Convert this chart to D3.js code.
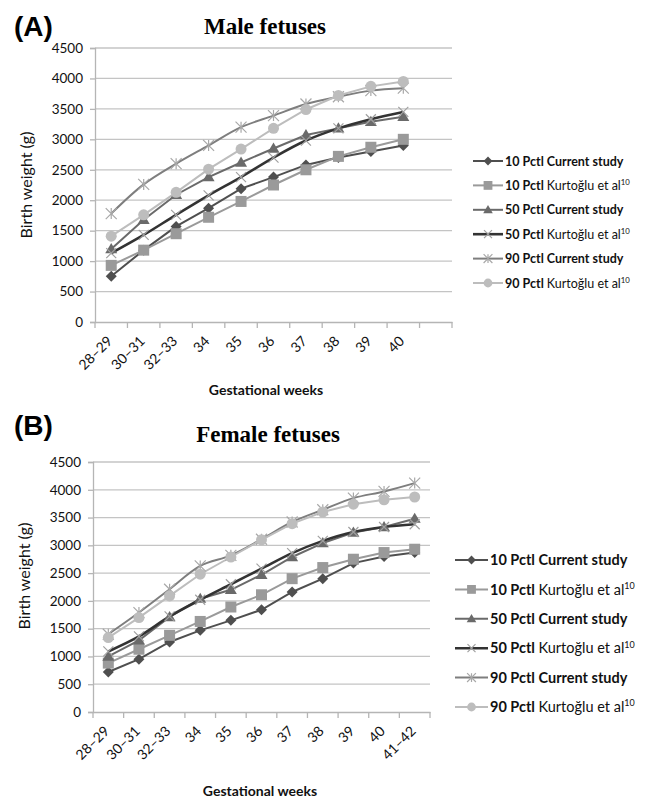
<!DOCTYPE html>
<html><head><meta charset="utf-8">
<script src="https://cdn.jsdelivr.net/npm/d3@7"></script>
<style>body{margin:0;background:#fff}svg{display:block}</style>
</head><body>
<svg id="c" width="651" height="800"></svg>
<script>
// ---- data ----
const weeksMale = ["28–29","30–31","32–33","34","35","36","37","38","39","40",""];
const weeksFemale = ["28–29","30–31","32–33","34","35","36","37","38","39","40","41–42"];
const yTicks = [0,500,1000,1500,2000,2500,3000,3500,4000,4500];

const seriesNames = [
  ["10 Pctl","Current study",false],
  ["10 Pctl","Kurtoğlu et al",true],
  ["50 Pctl","Current study",false],
  ["50 Pctl","Kurtoğlu et al",true],
  ["90 Pctl","Current study",false],
  ["90 Pctl","Kurtoğlu et al",true]
];

const male10Current = [750,1180,1570,1870,2190,2380,2580,2700,2800,2900];
const male10Kurt    = [930,1180,1450,1720,1980,2250,2500,2720,2870,3000];
const male50Current = [1200,1680,2090,2380,2620,2850,3070,3180,3290,3370];
const male50Kurt    = [1130,1430,1760,2080,2380,2700,2980,3180,3330,3450];
const male90Current = [1780,2260,2600,2900,3200,3390,3580,3700,3800,3840];
const male90Kurt    = [1410,1760,2130,2510,2840,3180,3490,3720,3870,3950];

const female10Current = [720,950,1260,1470,1650,1840,2160,2400,2680,2800,2870];
const female10Kurt    = [880,1130,1380,1630,1890,2110,2400,2600,2750,2870,2930];
const female50Current = [1000,1290,1710,2040,2200,2470,2790,3040,3230,3330,3480];
const female50Kurt    = [1090,1360,1720,2020,2300,2580,2860,3080,3240,3330,3380];
const female90Current = [1400,1790,2210,2630,2820,3110,3420,3640,3850,3970,4120];
const female90Kurt    = [1340,1700,2090,2480,2790,3100,3390,3600,3740,3820,3870];

// ---- styles ----
const colors = ["#4f4f4f","#9a9a9a","#6a6a6a","#333333","#7e7e7e","#bdbdbd"];
const markerColors = ["#4f4f4f","#9a9a9a","#6a6a6a","#a0a0a0","#a8a8a8","#bdbdbd"];
const shapes = ["diamond","square","triangle","x","asterisk","circle"];
const widths = [2,2,2,2.6,2,2];
const smooth = [false,false,false,true,true,false];

const svg = d3.select("#c");
const FONT = "Lato, 'Open Sans', sans-serif";

function marker(g, shape, color, x, y, s) {
  if (shape === "diamond") {
    const r = s*0.55;
    g.append("path").attr("d",`M${x},${y-r}L${x+r},${y}L${x},${y+r}L${x-r},${y}Z`).attr("fill",color);
  } else if (shape === "square") {
    g.append("rect").attr("x",x-s*0.55).attr("y",y-s*0.55).attr("width",s*1.1).attr("height",s*1.1).attr("fill",color);
  } else if (shape === "triangle") {
    const r = s*0.6;
    g.append("path").attr("d",`M${x},${y-r}L${x+r},${y+r*0.7}L${x-r},${y+r*0.7}Z`).attr("fill",color);
  } else if (shape === "circle") {
    g.append("circle").attr("cx",x).attr("cy",y).attr("r",s*0.55).attr("fill",color);
  } else if (shape === "x") {
    const r = s*0.5;
    g.append("path").attr("d",`M${x-r},${y-r}L${x+r},${y+r}M${x-r},${y+r}L${x+r},${y-r}`).attr("stroke",color).attr("stroke-width",1.2).attr("fill","none");
  } else if (shape === "asterisk") {
    const r = s*0.55;
    g.append("path").attr("d",`M${x-r},${y-r}L${x+r},${y+r}M${x-r},${y+r}L${x+r},${y-r}M${x},${y-r}L${x},${y+r}`).attr("stroke",color).attr("stroke-width",1.2).attr("fill","none");
  }
}

function drawChart(cfg) {
  const g = svg.append("g");
  g.append("text").attr("x",cfg.letterX).attr("y",cfg.letterY).text(cfg.letter)
    .attr("font-family","'Liberation Sans', Arial, sans-serif").attr("font-weight","bold").attr("font-size",28).attr("fill","#000");
  g.append("text").attr("x",cfg.titleX).attr("y",cfg.titleY).attr("text-anchor","middle").text(cfg.title)
    .attr("font-family","'Liberation Serif', 'Times New Roman', serif").attr("font-weight","bold").attr("font-size",cfg.titleFont).attr("fill","#000");

  const x = d3.scaleBand().domain(cfg.cats).range([cfg.left, cfg.right]);
  const y = d3.scaleLinear().domain([0,4500]).range([cfg.bottom, cfg.top]);

  g.append("g").selectAll("line").data(yTicks.filter(d=>d>0)).join("line")
    .attr("x1",cfg.left).attr("x2",cfg.right).attr("y1",d=>y(d)).attr("y2",d=>y(d))
    .attr("stroke","#c4c4c4").attr("stroke-width",1.3);

  const ya = g.append("g").attr("transform",`translate(${cfg.left},0)`)
    .call(d3.axisLeft(y).tickValues(yTicks).tickSize(5).tickPadding(7).tickFormat(d3.format("d")));
  ya.select(".domain").attr("stroke","#b5b5b5").attr("stroke-width",1.3);
  ya.selectAll(".tick line").attr("stroke","#b5b5b5").attr("stroke-width",1.3);
  ya.selectAll("text").attr("font-family",FONT).attr("font-size",cfg.tickFont).attr("fill","#111");

  const xa = g.append("g").attr("transform",`translate(0,${cfg.bottom})`)
    .call(d3.axisBottom(x).tickSize(0).tickFormat(d=>d));
  xa.select(".domain").attr("stroke","#b5b5b5").attr("stroke-width",1.3);
  xa.selectAll(".tick text").attr("font-family",FONT).attr("font-size",14).attr("fill","#111")
    .attr("text-anchor","end").attr("dy",0).attr("y",0)
    .attr("transform",`translate(2,${cfg.xLabOff}) rotate(-45)`);
  const bounds = cfg.cats.map(c=>x(c)).concat([cfg.right]);
  g.append("g").selectAll("line").data(bounds).join("line")
    .attr("x1",d=>d).attr("x2",d=>d).attr("y1",cfg.bottom).attr("y2",cfg.bottom+6)
    .attr("stroke","#b5b5b5").attr("stroke-width",1.3);

  g.append("text").attr("transform",`translate(${cfg.yLabX},${cfg.yLabY}) rotate(-90)`).attr("text-anchor","middle")
    .text("Birth weight (g)").attr("font-family",FONT).attr("font-size",16).attr("fill","#111");
  g.append("text").attr("x",cfg.xTitleX).attr("y",cfg.xTitleY).attr("text-anchor","middle")
    .text("Gestational weeks").attr("font-family",FONT).attr("font-weight","bold").attr("font-size",cfg.xTitleFont).attr("fill","#111");

  cfg.series.forEach((vals,k)=>{
    const line = d3.line().x((d,i)=>x(cfg.cats[i])+x.bandwidth()/2).y(d=>y(d))
      .curve(smooth[k] ? d3.curveCatmullRom.alpha(0.5) : d3.curveLinear);
    g.append("path").datum(vals).attr("d",line).attr("fill","none")
      .attr("stroke",colors[k]).attr("stroke-width",widths[k]);
  });
  cfg.series.forEach((vals,k)=>{
    vals.forEach((v,i)=>marker(g,shapes[k],markerColors[k],x(cfg.cats[i])+x.bandwidth()/2,y(v),cfg.mk));
  });

  seriesNames.forEach((s,k)=>{
    const ly = cfg.legY + k*cfg.legStep;
    g.append("line").attr("x1",cfg.legX).attr("x2",cfg.legX+cfg.legLen).attr("y1",ly).attr("y2",ly)
      .attr("stroke",colors[k]).attr("stroke-width",widths[k]);
    marker(g,shapes[k],markerColors[k],cfg.legX+cfg.legLen/2,ly,cfg.mk*0.8);
    const t = g.append("text").attr("x",cfg.legX+cfg.legLen+2).attr("y",ly+cfg.legFont*0.36)
      .attr("font-family",FONT).attr("font-size",cfg.legFont).attr("fill","#111");
    t.append("tspan").text(s[0]+" ").attr("font-weight","bold");
    t.append("tspan").text(s[1]).attr("font-weight",s[2]?"normal":"bold");
    if (s[2]) t.append("tspan").text("10").attr("font-size",cfg.legFont*0.62).attr("dy",-cfg.legFont*0.4);
  });
}

drawChart({
  letter:"(A)", letterX:14, letterY:36, title:"Male fetuses", titleX:265, titleY:34, titleFont:23,
  cats:weeksMale, left:95, right:452, top:48, bottom:322, tickFont:13.5, xLabOff:20,
  yLabX:32, yLabY:185, xTitleX:266, xTitleY:395, xTitleFont:14, mk:10,
  series:[male10Current,male10Kurt,male50Current,male50Kurt,male90Current,male90Kurt],
  legX:473, legY:161, legStep:24.4, legLen:30, legFont:12.5
});
drawChart({
  letter:"(B)", letterX:14, letterY:435, title:"Female fetuses", titleX:268, titleY:442, titleFont:23,
  cats:weeksFemale, left:93, right:430, top:462, bottom:712, tickFont:13.5, xLabOff:20,
  yLabX:30, yLabY:576, xTitleX:260, xTitleY:796, xTitleFont:14, mk:10,
  series:[female10Current,female10Kurt,female50Current,female50Kurt,female90Current,female90Kurt],
  legX:455, legY:560, legStep:29.4, legLen:33, legFont:14.5
});
</script>
</body></html>
